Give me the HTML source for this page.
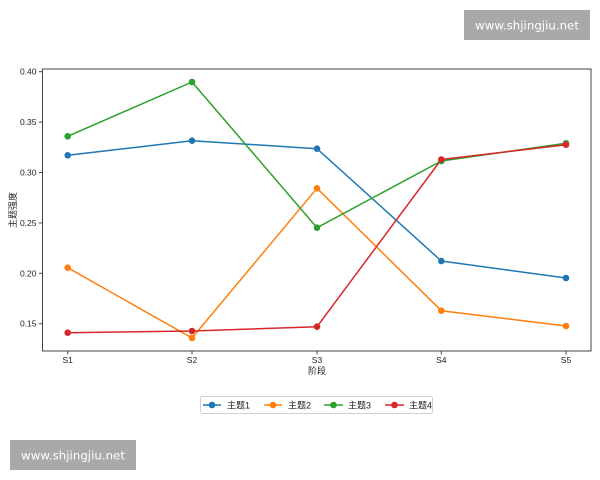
<!DOCTYPE html>
<html><head><meta charset="utf-8"><style>
html,body{margin:0;padding:0;background:#fff;}
svg{display:block;}
</style></head><body>
<svg width="600" height="480" viewBox="0 0 600 480" xmlns="http://www.w3.org/2000/svg">
<rect width="600" height="480" fill="#fff"/>
<!-- axes frame -->
<rect x="42.5" y="69" width="548.5" height="282" fill="none" stroke="#444" stroke-width="1"/>
<!-- y ticks -->
<g stroke="#444" stroke-width="1">
<line x1="39" y1="71.7" x2="42.5" y2="71.7"/>
<line x1="39" y1="122.1" x2="42.5" y2="122.1"/>
<line x1="39" y1="172.5" x2="42.5" y2="172.5"/>
<line x1="39" y1="222.9" x2="42.5" y2="222.9"/>
<line x1="39" y1="273.3" x2="42.5" y2="273.3"/>
<line x1="39" y1="323.7" x2="42.5" y2="323.7"/>
<line x1="67.7" y1="351" x2="67.7" y2="354.5"/>
<line x1="192" y1="351" x2="192" y2="354.5"/>
<line x1="317" y1="351" x2="317" y2="354.5"/>
<line x1="441.3" y1="351" x2="441.3" y2="354.5"/>
<line x1="566" y1="351" x2="566" y2="354.5"/>
</g>
<g font-family="Liberation Sans, Noto Sans CJK SC, sans-serif" font-size="8.5" fill="#222" text-anchor="end">
<text x="36.5" y="74.7">0.40</text>
<text x="36.5" y="125.1">0.35</text>
<text x="36.5" y="175.5">0.30</text>
<text x="36.5" y="225.9">0.25</text>
<text x="36.5" y="276.3">0.20</text>
<text x="36.5" y="326.7">0.15</text>
</g>
<g font-family="Liberation Sans, Noto Sans CJK SC, sans-serif" font-size="8.5" fill="#222" text-anchor="middle">
<text x="67.7" y="363">S1</text>
<text x="192" y="363">S2</text>
<text x="317" y="363">S3</text>
<text x="441.3" y="363">S4</text>
<text x="566" y="363">S5</text>
</g>
<text x="317" y="374" font-family="Liberation Sans, Noto Sans CJK SC, sans-serif" font-size="9" fill="#222" text-anchor="middle">阶段</text>
<text transform="translate(16,210) rotate(-90)" font-family="Liberation Sans, Noto Sans CJK SC, sans-serif" font-size="9" fill="#222" text-anchor="middle">主题强度</text>

<!-- series -->
<g fill="none" stroke-width="1.5" stroke-linejoin="round">
<polyline stroke="#1f77b4" points="67.7,155.3 192,140.7 317,148.7 441.3,261 566,278"/>
<polyline stroke="#ff7f0e" points="67.7,267.7 192,338 317,188.3 441.3,310.7 566,326"/>
<polyline stroke="#2ca02c" points="67.7,136.3 192,82 317,227.7 441.3,161 566,143.3"/>
<polyline stroke="#d62728" points="67.7,332.7 192,331 317,326.7 441.3,159.5 566,144.7"/>
</g>
<g fill="#1f77b4">
<circle cx="67.7" cy="155.3" r="3.3"/><circle cx="192" cy="140.7" r="3.3"/><circle cx="317" cy="148.7" r="3.3"/><circle cx="441.3" cy="261" r="3.3"/><circle cx="566" cy="278" r="3.3"/>
</g>
<g fill="#ff7f0e">
<circle cx="67.7" cy="267.7" r="3.3"/><circle cx="192" cy="338" r="3.3"/><circle cx="317" cy="188.3" r="3.3"/><circle cx="441.3" cy="310.7" r="3.3"/><circle cx="566" cy="326" r="3.3"/>
</g>
<g fill="#2ca02c">
<circle cx="67.7" cy="136.3" r="3.3"/><circle cx="192" cy="82" r="3.3"/><circle cx="317" cy="227.7" r="3.3"/><circle cx="441.3" cy="161" r="3.3"/><circle cx="566" cy="143.3" r="3.3"/>
</g>
<g fill="#d62728">
<circle cx="67.7" cy="332.7" r="3.3"/><circle cx="192" cy="331" r="3.3"/><circle cx="317" cy="326.7" r="3.3"/><circle cx="441.3" cy="159.5" r="3.3"/><circle cx="566" cy="144.7" r="3.3"/>
</g>

<!-- legend -->
<rect x="200.5" y="396.5" width="232" height="17" rx="2" fill="#fff" stroke="#d0d0d0" stroke-width="1"/>
<g stroke-width="1.5">
<line x1="203" y1="405" x2="221" y2="405" stroke="#1f77b4"/>
<line x1="264" y1="405" x2="282" y2="405" stroke="#ff7f0e"/>
<line x1="324" y1="405" x2="343" y2="405" stroke="#2ca02c"/>
<line x1="385" y1="405" x2="404" y2="405" stroke="#d62728"/>
</g>
<circle cx="212" cy="405" r="3.3" fill="#1f77b4"/>
<circle cx="273" cy="405" r="3.3" fill="#ff7f0e"/>
<circle cx="333.5" cy="405" r="3.3" fill="#2ca02c"/>
<circle cx="394.5" cy="405" r="3.3" fill="#d62728"/>
<g font-family="Liberation Sans, Noto Sans CJK SC, sans-serif" font-size="9" fill="#222">
<text x="227" y="408.5">主题1</text>
<text x="288" y="408.5">主题2</text>
<text x="348" y="408.5">主题3</text>
<text x="409" y="408.5">主题4</text>
</g>

<!-- watermarks -->
<rect x="464" y="10" width="126" height="30" fill="#a9a9a9"/>
<text x="527" y="29.5" font-family="DejaVu Sans, sans-serif" font-size="11.8" fill="#fff" text-anchor="middle">www.shjingjiu.net</text>
<rect x="10" y="440" width="126" height="30" fill="#a9a9a9"/>
<text x="73" y="459.5" font-family="DejaVu Sans, sans-serif" font-size="11.8" fill="#fff" text-anchor="middle">www.shjingjiu.net</text>
</svg>
</body></html>
